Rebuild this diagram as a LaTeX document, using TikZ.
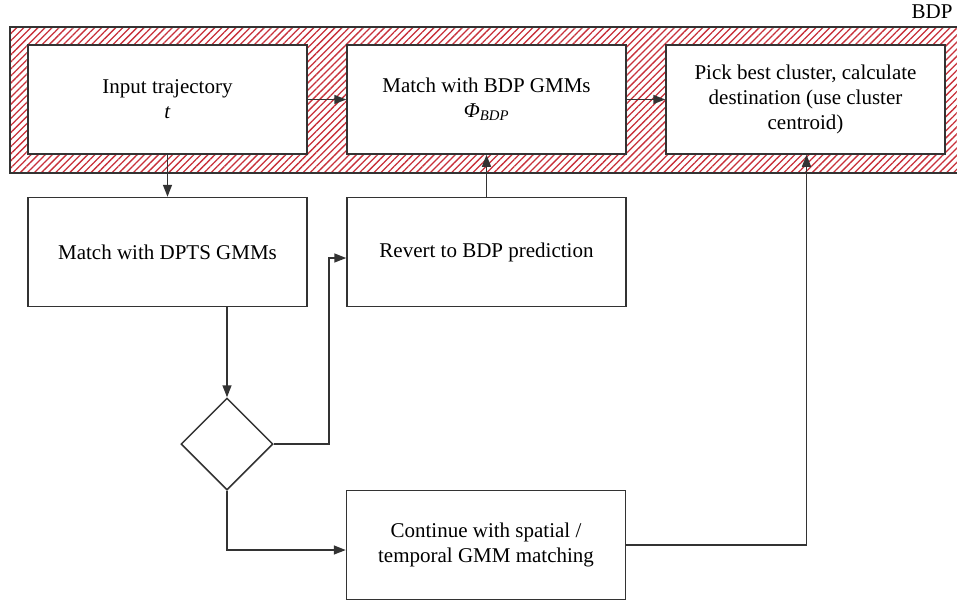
\documentclass[tikz,border=0pt]{standalone}
\usepackage{fontspec}
\setmainfont{Liberation Serif}
\usetikzlibrary{shapes.geometric,arrows.meta,patterns.meta}
\definecolor{hatchred}{HTML}{C8303A}
\definecolor{linegray}{HTML}{333333}
\tikzset{
	box/.style={draw=linegray, line width=1.5pt, fill=white, minimum width=279pt, minimum height=109pt, align=center, inner sep=0pt},
	decision/.style={draw=linegray, line width=1.5pt, diamond, minimum width=92pt, minimum height=92pt, inner sep=0pt},
	arr/.style={draw=linegray, line width=1.5pt, -{Triangle[length=12pt,width=9pt]}},
	plain/.style={draw=linegray, line width=1.5pt},
}
\begin{document}
\begin{tikzpicture}[x=1pt,y=1pt,font=\fontsize{21}{25}\selectfont]
		\useasboundingbox (0,0) rectangle (957,-603);
		% BDP band
		\fill[white] (10,-27) rectangle (960,-173);
		\fill[pattern={Lines[angle=45,distance=5pt,line width=1.3pt]}, pattern color=hatchred] (10,-27) rectangle (960,-173);
		\draw[plain] (960,-27) -- (10,-27) -- (10,-173) -- (960,-173);
		\node[anchor=base east] (bdp) at (956,-18) {BDP};
		% top row
		\node[box] (input) at (167.5,-99.5) {Input trajectory\\\textit{t}};
		\node[box] (bdpgmm) at (486.5,-99.5) {Match with BDP GMMs\\\textit{Φ\textsubscript{BDP}}};
		\node[box] (pick) at (805.5,-99.5) {Pick best cluster, calculate\\destination (use cluster\\centroid)};
		% lower part
		\node[box] (dpts) at (167.5,-252) {Match with DPTS GMMs};
		\node[box] (revert) at (486.5,-252) {Revert to BDP prediction};
		\node[decision] (check) at (227,-444) {};
		\node[box] (cont) at (486,-545) {Continue with spatial /\\temporal GMM matching};
		% connectors
		\draw[arr] (input) -- (bdpgmm);
		\draw[arr] (bdpgmm) -- (pick);
		\draw[arr] (input) -- (dpts);
		\draw[arr] (check.north |- dpts.south) -- (check.north);
		\draw[arr] (check.east) -- ++(55,0) |- ([yshift=-6pt]revert.west);
		\draw[arr] (revert) -- (bdpgmm);
		\draw[arr] (check.south) |- ([yshift=-5pt]cont.west);
		\draw[arr] (cont.east) -| ([xshift=1pt]pick.south);
	\end{tikzpicture}
\end{document}
